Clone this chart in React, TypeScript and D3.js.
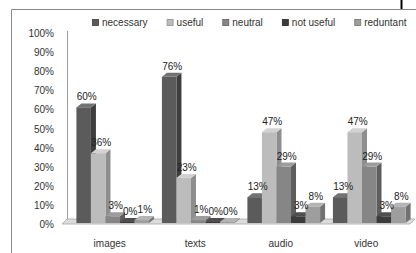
import * as d3 from 'd3';
import { useEffect, useRef } from 'react';

const categories = ['images', 'texts', 'audio', 'video'];
const seriesNames = ['necessary', 'useful', 'neutral', 'not useful', 'reduntant'];
const necessary = [0.6, 0.76, 0.13, 0.13];
const useful = [0.36, 0.23, 0.47, 0.47];
const neutral = [0.03, 0.01, 0.29, 0.29];
const notUseful = [0.0, 0.0, 0.03, 0.03];
const reduntant = [0.01, 0.0, 0.08, 0.08];
const yTicks = [0, 0.1, 0.2, 0.3, 0.4, 0.5, 0.6, 0.7, 0.8, 0.9, 1];

const seriesValues = [necessary, useful, neutral, notUseful, reduntant];

// front / side / top shades for each series
const shades = [
  ['#5b5b5b', '#3e3e3e', '#727272'],
  ['#bcbcbc', '#8e8e8e', '#d2d2d2'],
  ['#868686', '#5d5d5d', '#9c9c9c'],
  ['#3b3b3b', '#262626', '#4e4e4e'],
  ['#9e9e9e', '#727272', '#b4b4b4'],
];

const W = 416;
const H = 253;
const DX = 5;
const DY = 4;

export default function App() {
  const ref = useRef<SVGSVGElement>(null);

  useEffect(() => {
    const svg = d3.select(ref.current);
    svg.selectAll('*').remove();
    const font = "'Liberation Sans', Arial, sans-serif";

    const x0 = d3
      .scaleBand()
      .domain(categories)
      .range([67, 415])
      .paddingInner(0.15)
      .paddingOuter(0.11);
    const x1 = d3.scaleBand().domain(seriesNames).range([0, x0.bandwidth()]);
    const y = d3.scaleLinear().domain([0, 1]).range([222, 31]);

    // outer frame
    svg
      .append('path')
      .attr('d', `M11.5,${H}V9.5H${W}`)
      .attr('fill', 'none')
      .attr('stroke', '#8a8a8a');
    svg
      .append('line')
      .attr('x1', 401.5)
      .attr('x2', 401.5)
      .attr('y1', 0)
      .attr('y2', 9)
      .attr('stroke', '#000')
      .attr('stroke-width', 2);

    // back wall line
    const [xl, xr] = x0.range();
    svg
      .append('line')
      .attr('x1', xl + 0.5)
      .attr('x2', xl + 0.5)
      .attr('y1', y(1))
      .attr('y2', y(0) - 3)
      .attr('stroke', '#9a9a9a');

    // floor
    const fb = y(0) - 3;
    const ff = y(0) + 2;
    svg
      .append('path')
      .attr('d', `M${xl},${fb}H${xr}L${xr - DX},${ff}H${xl - DX}Z`)
      .attr('fill', '#dcdcdc')
      .attr('stroke', '#a8a8a8')
      .attr('stroke-width', 0.8);

    // y tick labels
    svg
      .append('g')
      .selectAll('text')
      .data(yTicks)
      .join('text')
      .attr('x', 54)
      .attr('y', (d) => y(d) + 2.5)
      .attr('dy', '0.35em')
      .attr('text-anchor', 'end')
      .attr('font-family', font)
      .attr('font-size', 10)
      .attr('fill', '#333')
      .text((d) => d3.format('.0%')(d));

    // bars
    const bw = x1.bandwidth();
    const base = y(0) + 1;
    categories.forEach((cat, ci) => {
      seriesNames.forEach((name, si) => {
        const v = seriesValues[si][ci];
        const bx = (x0(cat) as number) + (x1(name) as number);
        const ty = Math.min(y(v), base - 1);
        const [front, side, top] = shades[si];
        const g = svg.append('g');
        g.append('path')
          .attr('d', `M${bx + bw},${ty}L${bx + bw + DX},${ty - DY}V${base - DY}L${bx + bw},${base}Z`)
          .attr('fill', side);
        g.append('path')
          .attr('d', `M${bx},${ty}L${bx + DX},${ty - DY}H${bx + bw + DX}L${bx + bw},${ty}Z`)
          .attr('fill', top);
        g.append('rect')
          .attr('x', bx)
          .attr('y', ty)
          .attr('width', bw)
          .attr('height', base - ty)
          .attr('fill', front);
      });
    });

    // data labels
    categories.forEach((cat, ci) => {
      seriesNames.forEach((name, si) => {
        const v = seriesValues[si][ci];
        const bx = (x0(cat) as number) + (x1(name) as number);
        svg
          .append('text')
          .attr('x', bx + bw / 2 + 3)
          .attr('y', y(v) - 7)
          .attr('text-anchor', 'middle')
          .attr('font-family', font)
          .attr('font-size', 10)
          .attr('fill', '#222')
          .text(d3.format('.0%')(v));
      });
    });

    // category labels
    svg
      .append('g')
      .selectAll('text')
      .data(categories)
      .join('text')
      .attr('x', (d) => (x0(d) as number) + x0.bandwidth() / 2 - 3)
      .attr('y', 247)
      .attr('text-anchor', 'middle')
      .attr('font-family', font)
      .attr('font-size', 10)
      .attr('fill', '#333')
      .text((d) => d);

    // legend
    const legend = svg.append('g').attr('transform', 'translate(92,0)');
    let lx = 0;
    seriesNames.forEach((name, si) => {
      legend
        .append('rect')
        .attr('x', lx + 0.5)
        .attr('y', 19.5)
        .attr('width', 6)
        .attr('height', 6)
        .attr('fill', shades[si][0])
        .attr('stroke', shades[si][1])
        .attr('stroke-width', 0.8);
      const t = legend
        .append('text')
        .attr('x', lx + 10)
        .attr('y', 26)
        .attr('font-family', font)
        .attr('font-size', 10)
        .attr('fill', '#333')
        .text(name);
      const tw = (t.node() as SVGTextElement).getComputedTextLength();
      lx += 10 + tw + 19;
    });
  }, []);

  return (
    <svg
      ref={ref}
      width={W}
      height={H}
      style={{ position: 'absolute', left: 0, top: 0, background: '#fff' }}
    />
  );
}
